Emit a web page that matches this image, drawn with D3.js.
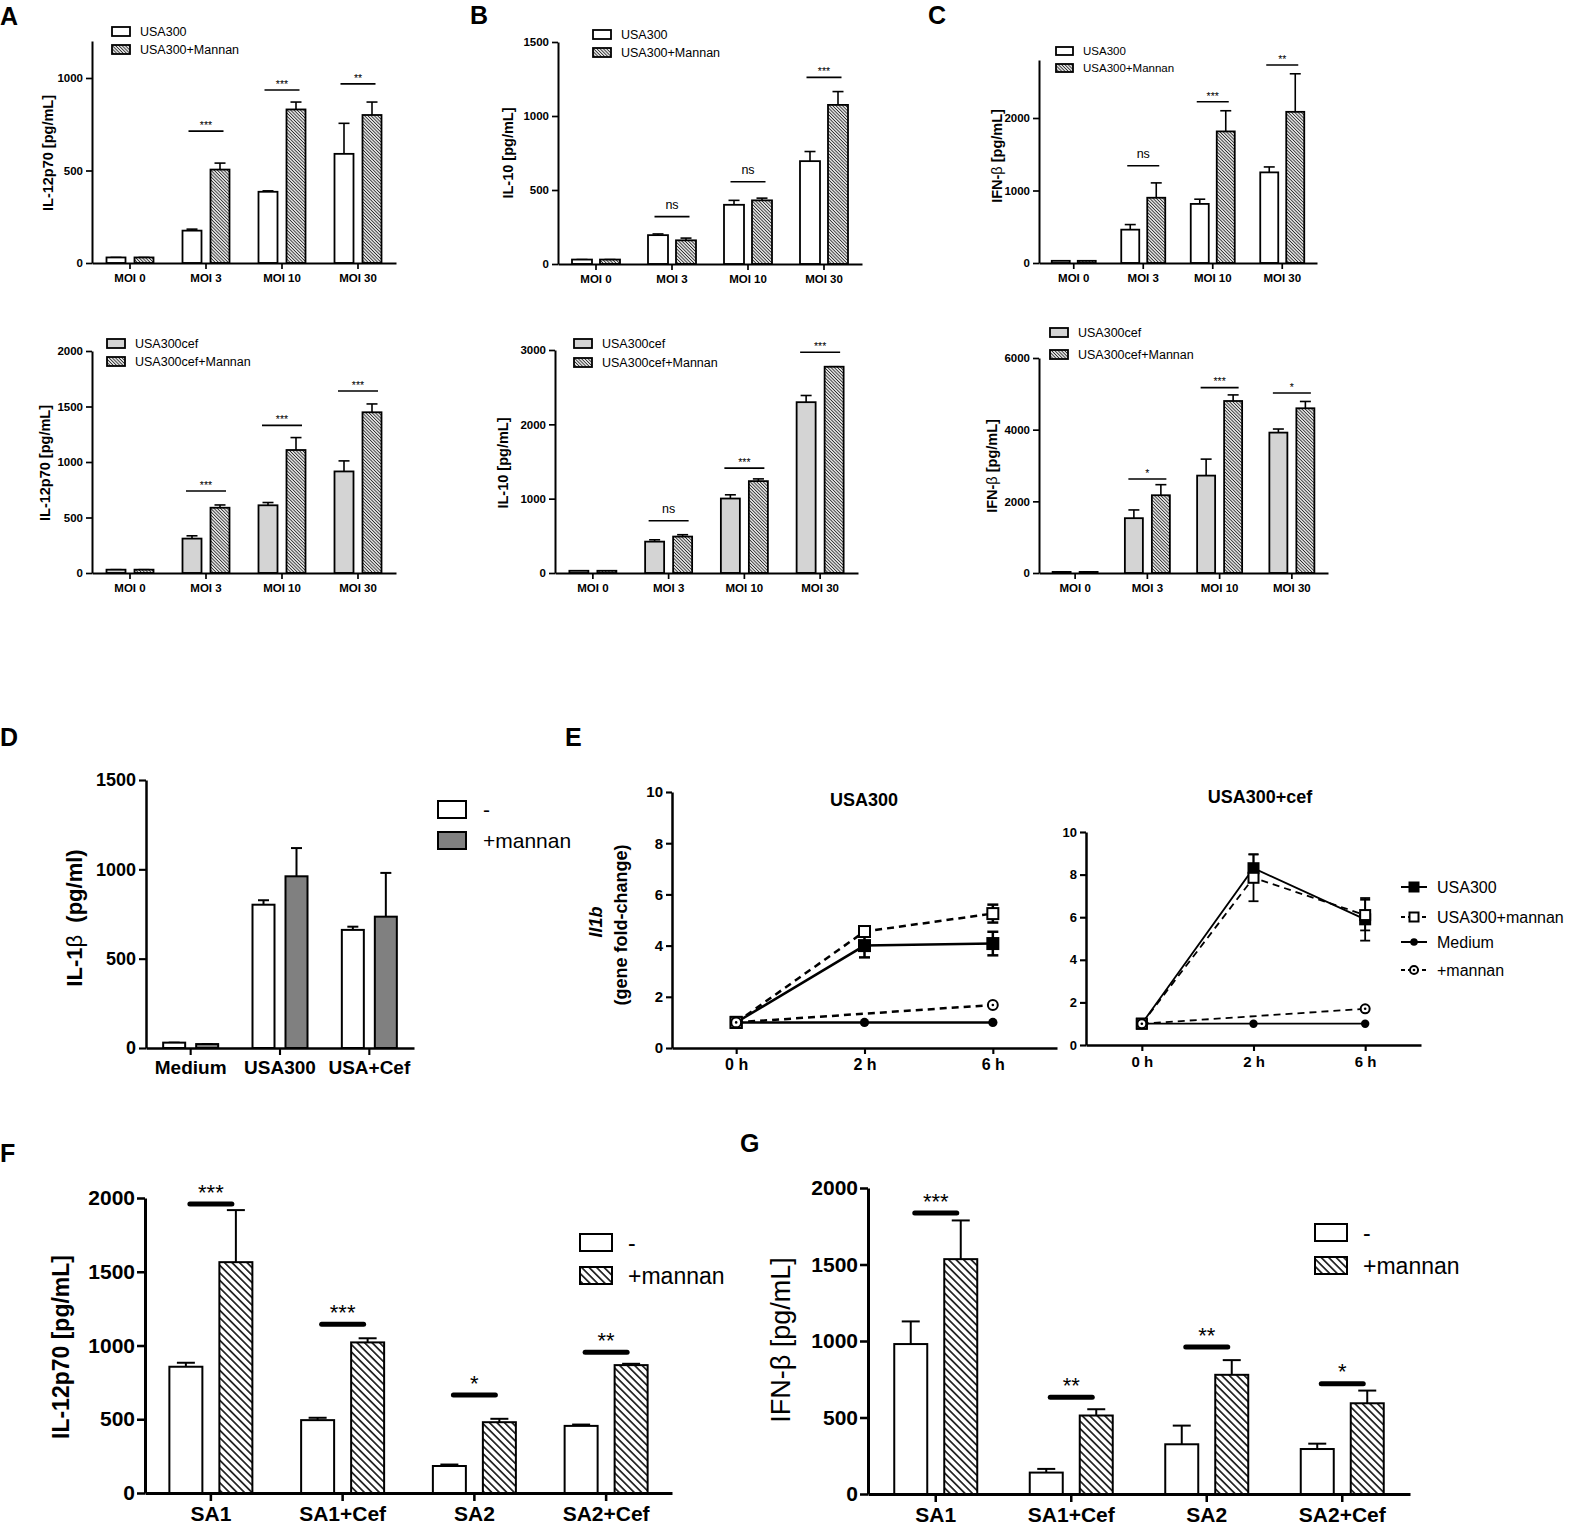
<!DOCTYPE html>
<html>
<head>
<meta charset="utf-8">
<script src="https://cdn.jsdelivr.net/npm/d3@7"></script>
<style>
  body { margin: 0; background: #fff; }
  text { font-family: "Liberation Sans", Arial, sans-serif; }
</style>
</head>
<body>
<svg id="fig" width="1571" height="1527"></svg>
<script>
// ---- data ----
const moiCats = ["MOI 0", "MOI 3", "MOI 10", "MOI 30"];

// A top: IL-12p70, USA300 vs USA300+Mannan
const il12Usa = [30, 175, 385, 590];
const il12UsaErr = [0, 8, 5, 165];
const il12UsaMan = [30, 505, 830, 800];
const il12UsaManErr = [0, 35, 40, 70];
const il12Sig = ["", "***", "***", "**"];
const il12SigAt = [null, 713, 935, 968];

// B top: IL-10
const il10Usa = [30, 195, 400, 695];
const il10UsaErr = [0, 8, 30, 65];
const il10UsaMan = [30, 160, 430, 1075];
const il10UsaManErr = [0, 15, 15, 90];
const il10Sig = ["", "ns", "ns", "***"];
const il10SigAt = [null, 320, 556, 1261];

// C top: IFN-beta
const ifnUsa = [30, 460, 815, 1250];
const ifnUsaErr = [0, 70, 65, 75];
const ifnUsaMan = [30, 900, 1815, 2085];
const ifnUsaManErr = [0, 205, 285, 525];
const ifnSig = ["", "ns", "***", "**"];
const ifnSigAt = [null, 1342, 2225, 2731];

// A bottom: IL-12p70, USA300cef
const il12Cef = [30, 310, 610, 915];
const il12CefErr = [0, 25, 25, 95];
const il12CefMan = [30, 588, 1108, 1448];
const il12CefManErr = [0, 25, 112, 75];
const il12CefSig = ["", "***", "***", "***"];
const il12CefSigAt = [null, 739, 1330, 1640];

// B bottom: IL-10, USA300cef
const il10Cef = [30, 422, 1002, 2298];
const il10CefErr = [0, 25, 50, 90];
const il10CefMan = [30, 490, 1236, 2775];
const il10CefManErr = [0, 25, 30, 0];
const il10CefSig = ["", "ns", "***", "***"];
const il10CefSigAt = [null, 703, 1411, 2970];

// C bottom: IFN-beta, USA300cef
const ifnCef = [30, 1530, 2718, 3918];
const ifnCefErr = [0, 230, 460, 100];
const ifnCefMan = [30, 2170, 4800, 4597];
const ifnCefManErr = [0, 295, 170, 190];
const ifnCefSig = ["", "*", "***", "*"];
const ifnCefSigAt = [null, 2624, 5174, 5024];

// D: IL-1beta
const dCats = ["Medium", "USA300", "USA+Cef"];
const il1Ctrl = [30, 802, 661];
const il1CtrlErr = [0, 25, 18];
const il1Man = [22, 961, 735];
const il1ManErr = [0, 158, 245];

// E: Il1b fold change
const eTimes = ["0 h", "2 h", "6 h"];
const eLeftUsa = [1, 4.0, 4.08];
const eLeftUsaErr = [0, 0.46, 0.46];
const eLeftUsaMan = [1, 4.55, 5.25];
const eLeftUsaManErr = [0, 0.1, 0.35];
const eLeftMed = [1, 1, 1];
const eLeftMan = [1, null, 1.68];
const eRightUsa = [1, 8.3, 5.9];
const eRightUsaErr = [0, 0.65, 1.0];
const eRightUsaMan = [1, 7.85, 6.1];
const eRightUsaManErr = [0, 1.1, 0.72];
const eRightMed = [1, 1, 1];
const eRightMan = [1, null, 1.7];
const eLegend = ["USA300", "USA300+mannan", "Medium", "+mannan"];

// F / G: SA strains
const saCats = ["SA1", "SA1+Cef", "SA2", "SA2+Cef"];
const fCtrl = [856, 494, 183, 455];
const fCtrlErr = [27, 16, 10, 9];
const fMan = [1565, 1021, 480, 867];
const fManErr = [353, 28, 23, 9];
const fSig = ["***", "***", "*", "**"];
const fSigAt = [1959, 1144, 664, 954];

const gCtrl = [980, 140, 325, 294];
const gCtrlErr = [148, 24, 122, 35];
const gMan = [1535, 513, 779, 593];
const gManErr = [253, 41, 96, 83];
const gSig = ["***", "**", "**", "*"];
const gSigAt = [1836, 632, 960, 720];

// ---- drawing ----
const svg = d3.select("#fig");
const defs = svg.append("defs");

function hatch(id, step, lw, color) {
  const p = defs.append("pattern")
    .attr("id", id)
    .attr("patternUnits", "userSpaceOnUse")
    .attr("width", step)
    .attr("height", step)
    .attr("patternTransform", "rotate(-45)");
  p.append("rect").attr("width", step).attr("height", step).attr("fill", "#fff");
  p.append("line")
    .attr("x1", step / 2).attr("x2", step / 2)
    .attr("y1", 0).attr("y2", step)
    .attr("stroke", color).attr("stroke-width", lw);
}
hatch("hatchS", 2.3, 1.0, "#2a2a2a");
hatch("hatchL", 5.3, 1.5, "#000");

const small = {
  tickFont: 11.5, xFont: 11.5, axisW: 2, tickLen: 6, tickPad: 3, xPad: 5,
  barStroke: 1.8, errCap: 11, errW: 1.6, sigW: 1.6, sigHalf: 17.5,
  sigFont: 10.5, nsFont: 12.5, labelFont: 14.5, labelBold: true,
  barW: 19, gap: 9, legFont: 12.5, legW: 18, legH: 9, legGap: 10
};
const big = {
  tickFont: 21, xFont: 21, axisW: 3, tickLen: 8, tickPad: 2, xPad: 5,
  barStroke: 2, errCap: 18, errW: 2, sigW: 5, sigHalf: 21,
  sigFont: 22, nsFont: 22, labelFont: 23, labelBold: true,
  barW: 33, gap: 17, legFont: 23, legW: 32, legH: 17, legGap: 16
};
const mid = {
  tickFont: 18, xFont: 19, axisW: 2.5, tickLen: 7, tickPad: 3, xPad: 6,
  barStroke: 2, errCap: 11, errW: 2, sigW: 2, sigHalf: 18,
  sigFont: 18, nsFont: 18, labelFont: 22, labelBold: true,
  barW: 22, gap: 11, legFont: 21, legW: 28, legH: 17, legGap: 17
};

function styleAxis(ax, st, size) {
  ax.attr("font-family", null).attr("font-size", null);
  ax.select(".domain").attr("stroke", "#000").attr("stroke-width", st.axisW);
  ax.selectAll(".tick line").attr("stroke", "#000").attr("stroke-width", st.axisW * 0.85);
  ax.selectAll(".tick text")
    .attr("fill", "#000")
    .style("font-size", size + "px")
    .style("font-weight", "bold");
}

function yLabel(g, x, y, parts, size) {
  const t = g.append("text")
    .attr("transform", `translate(${x},${y}) rotate(-90)`)
    .attr("text-anchor", "middle")
    .attr("dominant-baseline", "central")
    .style("font-size", size + "px")
    .style("white-space", "pre");
  parts.forEach(([s, w, it]) => {
    t.append("tspan").text(s).style("font-weight", w).style("font-style", it ? "italic" : "normal");
  });
}

function barPanel(p) {
  const st = Object.assign({}, p.style, p.over || {});
  const g = svg.append("g");
  const y = d3.scaleLinear().domain(p.domain).range([p.y0, p.y1]);
  const step = (p.x1 - p.x0) / p.cats.length;
  const pairW = 2 * st.barW + st.gap;
  const pin = 1 - pairW / step;
  const x = d3.scaleBand().domain(p.cats).range([p.x0, p.x1])
    .paddingInner(pin).paddingOuter(pin / 2);
  const xs = d3.scaleBand().domain([0, 1]).range([0, pairW])
    .paddingInner(st.gap / (st.barW + st.gap));

  // error bars (upper only)
  p.series.forEach((s, si) => {
    const cx = (i) => x(p.cats[i]) + xs(si) + xs.bandwidth() / 2;
    const eg = g.append("g").attr("stroke", "#000").attr("stroke-width", st.errW);
    eg.selectAll("line.v").data(s.vals).join("line")
      .attr("x1", (d, i) => cx(i)).attr("x2", (d, i) => cx(i))
      .attr("y1", (d) => y(d)).attr("y2", (d, i) => y(d + s.errs[i]));
    eg.selectAll("line.c").data(s.vals).join("line")
      .attr("x1", (d, i) => cx(i) - st.errCap / 2).attr("x2", (d, i) => cx(i) + st.errCap / 2)
      .attr("y1", (d, i) => y(d + s.errs[i])).attr("y2", (d, i) => y(d + s.errs[i]));
  });
  // bars
  p.series.forEach((s, si) => {
    g.append("g").selectAll("rect").data(s.vals).join("rect")
      .attr("x", (d, i) => x(p.cats[i]) + xs(si))
      .attr("y", (d) => y(d))
      .attr("width", xs.bandwidth())
      .attr("height", (d) => y(0) - y(d))
      .attr("fill", s.fill)
      .attr("stroke", "#000")
      .attr("stroke-width", st.barStroke);
  });

  // axes
  const ay = g.append("g").attr("transform", `translate(${p.x0},0)`)
    .call(d3.axisLeft(y).tickValues(p.ticks).tickSize(st.tickLen).tickSizeOuter(0)
      .tickPadding(st.tickPad).tickFormat(d3.format("d")));
  styleAxis(ay, st, st.tickFont);
  const ax = g.append("g").attr("transform", `translate(0,${p.y0})`)
    .call(d3.axisBottom(x).tickSize(st.tickLen).tickSizeOuter(0).tickPadding(st.xPad));
  styleAxis(ax, st, st.xFont);

  // significance
  if (p.sig) {
    p.sig.forEach((lab, i) => {
      if (!lab) return;
      const cx = x(p.cats[i]) + x.bandwidth() / 2;
      const yy = y(p.sigAt[i]);
      g.append("line")
        .attr("x1", cx - st.sigHalf).attr("x2", cx + st.sigHalf)
        .attr("y1", yy).attr("y2", yy)
        .attr("stroke", "#000").attr("stroke-width", st.sigW)
        .attr("stroke-linecap", st.sigW > 3 ? "round" : "butt");
      const ns = lab === "ns";
      g.append("text")
        .attr("x", cx).attr("y", yy - (ns ? st.nsFont * 0.62 : st.sigFont * 0.2))
        .attr("text-anchor", "middle")
        .style("font-size", (ns ? st.nsFont : st.sigFont) + "px")
        .text(lab);
    });
  }

  // legend
  p.series.forEach((s, si) => {
    const ly = p.leg.rows[si];
    g.append("rect")
      .attr("x", p.leg.x).attr("y", ly)
      .attr("width", st.legW).attr("height", st.legH)
      .attr("fill", s.fill).attr("stroke", "#000").attr("stroke-width", st.barStroke);
    g.append("text")
      .attr("x", p.leg.x + st.legW + st.legGap).attr("y", ly + st.legH / 2)
      .attr("dominant-baseline", "central")
      .style("font-size", st.legFont + "px")
      .text(s.name);
  });

  yLabel(g, p.lab.x, p.lab.y, p.lab.parts, st.labelFont);
}

const HS = "url(#hatchS)", HL = "url(#hatchL)", LG = "#d4d4d4";
const B = "bold", N = "normal";

barPanel({
  style: small, cats: moiCats, domain: [0, 1200], ticks: [0, 500, 1000],
  x0: 92, x1: 396, y0: 263, y1: 41,
  series: [
    { name: "USA300", vals: il12Usa, errs: il12UsaErr, fill: "#fff" },
    { name: "USA300+Mannan", vals: il12UsaMan, errs: il12UsaManErr, fill: HS }
  ],
  sig: il12Sig, sigAt: il12SigAt,
  leg: { x: 112, rows: [27, 45] },
  lab: { x: 48, y: 153, parts: [["IL-12p70 [pg/mL]", B]] }
});
barPanel({
  style: small, over: { barW: 20, gap: 8 }, cats: moiCats, domain: [0, 1500], ticks: [0, 500, 1000, 1500],
  x0: 558, x1: 862, y0: 264, y1: 42,
  series: [
    { name: "USA300", vals: il10Usa, errs: il10UsaErr, fill: "#fff" },
    { name: "USA300+Mannan", vals: il10UsaMan, errs: il10UsaManErr, fill: HS }
  ],
  sig: il10Sig, sigAt: il10SigAt,
  leg: { x: 593, rows: [30, 48] },
  lab: { x: 508, y: 153, parts: [["IL-10 [pg/mL]", B]] }
});
barPanel({
  style: small, over: { barW: 18, gap: 8, legFont: 11.5, legW: 17, legH: 8, sigHalf: 16 },
  cats: moiCats, domain: [0, 2800], ticks: [0, 1000, 2000],
  x0: 1039, x1: 1317, y0: 263, y1: 60,
  series: [
    { name: "USA300", vals: ifnUsa, errs: ifnUsaErr, fill: "#fff" },
    { name: "USA300+Mannan", vals: ifnUsaMan, errs: ifnUsaManErr, fill: HS }
  ],
  sig: ifnSig, sigAt: ifnSigAt,
  leg: { x: 1056, rows: [47, 64] },
  lab: { x: 997, y: 156, parts: [["IFN-", B], ["β", N], [" [pg/mL]", B]] }
});
barPanel({
  style: small, over: { sigHalf: 20 }, cats: moiCats, domain: [0, 2000], ticks: [0, 500, 1000, 1500, 2000],
  x0: 92, x1: 396, y0: 573, y1: 351,
  series: [
    { name: "USA300cef", vals: il12Cef, errs: il12CefErr, fill: LG },
    { name: "USA300cef+Mannan", vals: il12CefMan, errs: il12CefManErr, fill: HS }
  ],
  sig: il12CefSig, sigAt: il12CefSigAt,
  leg: { x: 107, rows: [339, 357] },
  lab: { x: 45, y: 463, parts: [["IL-12p70 [pg/mL]", B]] }
});
barPanel({
  style: small, over: { sigHalf: 20 }, cats: moiCats, domain: [0, 3000], ticks: [0, 1000, 2000, 3000],
  x0: 555, x1: 858, y0: 573, y1: 350,
  series: [
    { name: "USA300cef", vals: il10Cef, errs: il10CefErr, fill: LG },
    { name: "USA300cef+Mannan", vals: il10CefMan, errs: il10CefManErr, fill: HS }
  ],
  sig: il10CefSig, sigAt: il10CefSigAt,
  leg: { x: 574, rows: [339, 358] },
  lab: { x: 503, y: 463, parts: [["IL-10 [pg/mL]", B]] }
});
barPanel({
  style: small, over: { barW: 18, gap: 9, sigHalf: 19 }, cats: moiCats, domain: [0, 6000], ticks: [0, 2000, 4000, 6000],
  x0: 1039, x1: 1328, y0: 573, y1: 358,
  series: [
    { name: "USA300cef", vals: ifnCef, errs: ifnCefErr, fill: LG },
    { name: "USA300cef+Mannan", vals: ifnCefMan, errs: ifnCefManErr, fill: HS }
  ],
  sig: ifnCefSig, sigAt: ifnCefSigAt,
  leg: { x: 1050, rows: [328, 350] },
  lab: { x: 992, y: 466, parts: [["IFN-", B], ["β", N], [" [pg/mL]", B]] }
});

barPanel({
  style: mid, cats: dCats, domain: [0, 1500], ticks: [0, 500, 1000, 1500],
  x0: 146, x1: 414, y0: 1048, y1: 780,
  series: [
    { name: "-", vals: il1Ctrl, errs: il1CtrlErr, fill: "#fff" },
    { name: "+mannan", vals: il1Man, errs: il1ManErr, fill: "#808080" }
  ],
  leg: { x: 438, rows: [801, 832] },
  lab: { x: 74, y: 918, parts: [["IL-1", B], ["β", N], ["  (pg/ml)", B]] }
});

barPanel({
  style: big, cats: saCats, domain: [0, 2000], ticks: [0, 500, 1000, 1500, 2000],
  x0: 145, x1: 672, y0: 1493, y1: 1198,
  series: [
    { name: "-", vals: fCtrl, errs: fCtrlErr, fill: "#fff" },
    { name: "+mannan", vals: fMan, errs: fManErr, fill: HL }
  ],
  sig: fSig, sigAt: fSigAt,
  leg: { x: 580, rows: [1234, 1267] },
  lab: { x: 61, y: 1347, parts: [["IL-12p70 [pg/mL]", B]] }
});
barPanel({
  style: big, over: { labelFont: 27 }, cats: saCats, domain: [0, 2000], ticks: [0, 500, 1000, 1500, 2000],
  x0: 868, x1: 1410, y0: 1494, y1: 1188,
  series: [
    { name: "-", vals: gCtrl, errs: gCtrlErr, fill: "#fff" },
    { name: "+mannan", vals: gMan, errs: gManErr, fill: HL }
  ],
  sig: gSig, sigAt: gSigAt,
  leg: { x: 1315, rows: [1224, 1257] },
  lab: { x: 781, y: 1340, parts: [["IFN-β [pg/mL]", N]] }
});

// ---- E: line plots ----
const eStyle = { axisW: 2.5, tickLen: 6 };

function marker(g, kind, cx, cy, s) {
  if (kind === "fsq" || kind === "osq") {
    g.append("rect")
      .attr("x", cx - s / 2).attr("y", cy - s / 2).attr("width", s).attr("height", s)
      .attr("fill", kind === "fsq" ? "#000" : "#fff")
      .attr("stroke", "#000").attr("stroke-width", 2);
  } else if (kind === "fci") {
    g.append("circle").attr("cx", cx).attr("cy", cy).attr("r", s * 0.42).attr("fill", "#000");
  } else {
    g.append("circle").attr("cx", cx).attr("cy", cy).attr("r", s * 0.45)
      .attr("fill", "#fff").attr("stroke", "#000").attr("stroke-width", 2);
    g.append("circle").attr("cx", cx).attr("cy", cy).attr("r", 1.3).attr("fill", "#000");
  }
}

function linePanel(p) {
  const g = svg.append("g");
  const y = d3.scaleLinear().domain([0, 10]).range([p.y0, p.y1]);
  const x = d3.scalePoint().domain(eTimes).range([p.x0, p.x1]).padding(0.5);

  const ay = g.append("g").attr("transform", `translate(${p.x0},0)`)
    .call(d3.axisLeft(y).tickValues([0, 2, 4, 6, 8, 10]).tickSize(eStyle.tickLen)
      .tickSizeOuter(0).tickPadding(3));
  styleAxis(ay, eStyle, p.tickFont);
  const ax = g.append("g").attr("transform", `translate(0,${p.y0})`)
    .call(d3.axisBottom(x).tickSize(eStyle.tickLen).tickSizeOuter(0).tickPadding(5));
  styleAxis(ax, eStyle, p.xFont);

  const line = d3.line().x((d) => x(d.t)).y((d) => y(d.v));
  p.series.forEach((s) => {
    const pts = s.vals.map((v, i) => ({ t: eTimes[i], v, e: s.errs ? s.errs[i] : 0 }))
      .filter((d) => d.v != null);
    g.append("path").datum(pts).attr("d", line)
      .attr("fill", "none").attr("stroke", "#000").attr("stroke-width", p.lw)
      .attr("stroke-dasharray", s.dash ? "7,5" : null);
    s.pts = pts;
  });
  p.series.forEach((s) => {
    s.pts.filter((d) => d.e > 0).forEach((d) => {
      const cx = x(d.t);
      const lo = y(d.v - d.e), hi = y(d.v + d.e);
      g.append("line").attr("x1", cx).attr("x2", cx).attr("y1", lo).attr("y2", hi)
        .attr("stroke", "#000").attr("stroke-width", p.lw);
      [lo, hi].forEach((yy) => g.append("line")
        .attr("x1", cx - p.cap / 2).attr("x2", cx + p.cap / 2).attr("y1", yy).attr("y2", yy)
        .attr("stroke", "#000").attr("stroke-width", p.lw));
    });
  });
  p.series.forEach((s) => {
    s.pts.forEach((d) => marker(g, s.mk, x(d.t), y(d.v), p.ms));
  });

  g.append("text")
    .attr("x", p.title.x).attr("y", p.title.y)
    .attr("text-anchor", "middle")
    .style("font-size", "18px").style("font-weight", "bold")
    .text(p.title.text);
}

const eMarks = ["fsq", "osq", "fci", "oci"];
const eDash = [false, true, false, true];

linePanel({
  x0: 672, x1: 1057, y0: 1048, y1: 792, lw: 2.5, cap: 11, ms: 11,
  tickFont: 15, xFont: 16,
  title: { x: 864, y: 806, text: "USA300" },
  series: [
    { vals: eLeftUsa, errs: eLeftUsaErr, mk: "fsq", dash: false },
    { vals: eLeftUsaMan, errs: eLeftUsaManErr, mk: "osq", dash: true },
    { vals: eLeftMed, mk: "fci", dash: false },
    { vals: eLeftMan, mk: "oci", dash: true }
  ]
});
linePanel({
  x0: 1086, x1: 1421, y0: 1045, y1: 832, lw: 1.8, cap: 10, ms: 10,
  tickFont: 13, xFont: 15,
  title: { x: 1260, y: 803, text: "USA300+cef" },
  series: [
    { vals: eRightUsa, errs: eRightUsaErr, mk: "fsq", dash: false },
    { vals: eRightUsaMan, errs: eRightUsaManErr, mk: "osq", dash: true },
    { vals: eRightMed, mk: "fci", dash: false },
    { vals: eRightMan, mk: "oci", dash: true }
  ]
});

// E legend
const eLegRows = [887, 917, 942, 970];
const eLegG = svg.append("g");
eLegend.forEach((name, i) => {
  const yy = eLegRows[i];
  eLegG.append("line").attr("x1", 1401).attr("x2", 1427).attr("y1", yy).attr("y2", yy)
    .attr("stroke", "#000").attr("stroke-width", 2)
    .attr("stroke-dasharray", eDash[i] ? "4,3" : null);
  marker(eLegG, eMarks[i], 1414, yy, 9);
  eLegG.append("text").attr("x", 1437).attr("y", yy)
    .attr("dominant-baseline", "central")
    .style("font-size", "16px").text(name);
});

// E y label
yLabel(svg, 596, 922, [["Il1b", B, true]], 18);
yLabel(svg, 621, 925, [["(gene fold-change)", B]], 18);

// panel letters
const letters = [["A", 0, 25], ["B", 470, 24], ["C", 928, 24], ["D", 0, 746],
  ["E", 565, 746], ["F", 0, 1162], ["G", 740, 1152]];
svg.selectAll("text.letter").data(letters).join("text")
  .attr("class", "letter")
  .attr("x", (d) => d[1]).attr("y", (d) => d[2])
  .style("font-size", "25px").style("font-weight", "bold")
  .text((d) => d[0]);
</script>
</body>
</html>
